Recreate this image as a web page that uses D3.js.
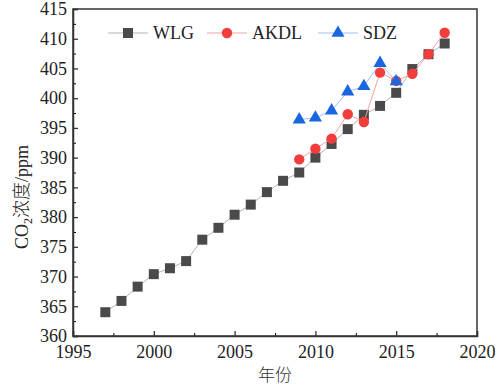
<!DOCTYPE html>
<html>
<head>
<meta charset="utf-8">
<script src="https://cdn.jsdelivr.net/npm/d3@7"></script>
<style>
  body { margin: 0; background: #fff; }
  text { font-family: "Liberation Serif", "Times New Roman", serif; }
</style>
</head>
<body>
<div id="chart"></div>
<script>
// data
const wlgYears = d3.range(1997, 2019);
const wlgValues = [364.0, 365.9, 368.3, 370.4, 371.4, 372.6, 376.2, 378.2, 380.4, 382.1, 384.2,
  386.1, 387.5, 390.0, 392.3, 394.8, 397.2, 398.7, 400.9, 404.9, 407.4, 409.2];
const akdlYears = d3.range(2009, 2019);
const akdlValues = [389.7, 391.5, 393.2, 397.3, 396.0, 404.3, 402.9, 404.1, 407.4, 411.0];
const sdzYears = d3.range(2009, 2016);
const sdzValues = [396.4, 396.7, 397.9, 401.1, 402.0, 405.9, 402.8];
const xTicks = [1995, 2000, 2005, 2010, 2015, 2020];
const yTicks = [360, 365, 370, 375, 380, 385, 390, 395, 400, 405, 410, 415];

const series = [
  { name: 'WLG', years: wlgYears, values: wlgValues, shape: d3.symbolSquare, size: 100, color: '#4a4a4a', line: '#b4b4b4' },
  { name: 'AKDL', years: akdlYears, values: akdlValues, shape: d3.symbolCircle, size: 85, color: '#f23d3d', line: '#f7a3a3' },
  { name: 'SDZ', years: sdzYears, values: sdzValues, shape: d3.symbolTriangle, size: 75, color: '#1a66e0', line: '#9fbff0' }
];

const W = 500, H = 387;
const margin = { left: 73, right: 23, top: 9, bottom: 51 };
const width = W - margin.left - margin.right;
const height = H - margin.top - margin.bottom;

const svg = d3.select('#chart').append('svg')
  .attr('width', W).attr('height', H);
const g = svg.append('g')
  .attr('transform', 'translate(' + margin.left + ',' + margin.top + ')');

const x = d3.scaleLinear().domain([1995, 2020]).range([0, width]);
const y = d3.scaleLinear().domain([360, 415]).range([height, 0]);

// minor ticks (inside)
g.append('g').attr('transform', 'translate(0,' + height + ')')
  .call(d3.axisBottom(x).tickValues(d3.range(1997.5, 2020, 5)).tickSize(-3).tickFormat(''))
  .call(a => a.select('.domain').remove());
g.append('g')
  .call(d3.axisLeft(y).tickValues(d3.range(362.5, 415, 5)).tickSize(-3).tickFormat(''))
  .call(a => a.select('.domain').remove());

// major axes
const xAxis = g.append('g').attr('transform', 'translate(0,' + height + ')')
  .call(d3.axisBottom(x).tickValues(xTicks).tickSize(-5).tickPadding(9).tickFormat(d3.format('d')));
const yAxis = g.append('g')
  .call(d3.axisLeft(y).tickValues(yTicks).tickSize(-5).tickPadding(6));
[xAxis, yAxis].forEach(a => {
  a.selectAll('text').attr('font-size', '18px').attr('fill', '#222')
    .style('font-family', '"Liberation Serif", serif');
  a.selectAll('line').attr('stroke', '#333').attr('stroke-width', 1.3);
  a.select('.domain').attr('stroke', '#333').attr('stroke-width', 1.5);
});

// frame
g.append('rect').attr('width', width).attr('height', height)
  .attr('fill', 'none').attr('stroke', '#333').attr('stroke-width', 1.5);

// lines and markers
const line = d3.line().x(d => x(d[0])).y(d => y(d[1]));
series.forEach(s => {
  const pts = s.years.map((yr, i) => [yr, s.values[i]]);
  g.append('path').datum(pts).attr('d', line)
    .attr('fill', 'none').attr('stroke', s.line).attr('stroke-width', 1);
  g.selectAll(null).data(pts).enter().append('path')
    .attr('d', d3.symbol().type(s.shape).size(s.size))
    .attr('transform', d => 'translate(' + x(d[0]) + ',' + y(d[1]) + ')')
    .attr('fill', s.color);
});

// legend
const legendX = [35, 134, 245];
series.forEach((s, i) => {
  const lg = g.append('g').attr('transform', 'translate(' + legendX[i] + ',24)');
  lg.append('line').attr('x1', 0).attr('x2', 40).attr('stroke', s.line).attr('stroke-width', 1);
  lg.append('path').attr('d', d3.symbol().type(s.shape).size(s.size))
    .attr('transform', 'translate(20,0)').attr('fill', s.color);
  lg.append('text').attr('x', 45).attr('y', 6).attr('font-size', '18px').attr('fill', '#222').text(s.name);
});

// axis titles
svg.append('text')
  .attr('x', margin.left + width / 2).attr('y', 381)
  .attr('text-anchor', 'middle').attr('font-size', '17px').attr('fill', '#333')
  .style('font-family', '"Noto Sans CJK SC", serif')
  .style('font-weight', 300)
  .text('年份');

const yt = svg.append('text')
  .attr('transform', 'translate(28,197) rotate(-90)')
  .attr('text-anchor', 'middle').attr('font-size', '18px').attr('fill', '#222');
yt.append('tspan').text('CO');
yt.append('tspan').attr('font-size', '12px').attr('dy', 4).text('2');
yt.append('tspan').attr('dy', -4).style('font-family', '"Noto Sans CJK SC", serif').style('font-weight', 300).text('浓度');
yt.append('tspan').text('/ppm');
</script>
</body>
</html>
